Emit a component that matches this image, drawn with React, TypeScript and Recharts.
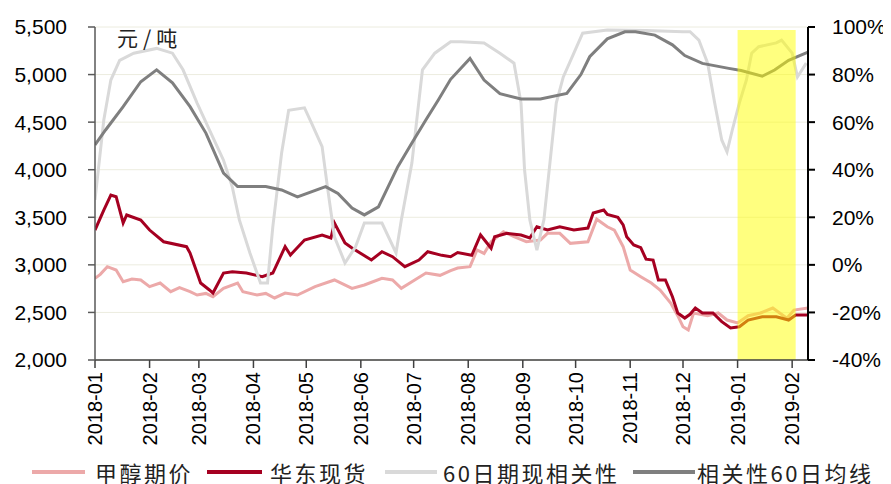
import React from 'react';
import { ComposedChart, Line, Area, XAxis, YAxis, CartesianGrid, Legend } from 'recharts';

// ---- tick labels / categories ----
const monthTicks = ['2018-01', '2018-02', '2018-03', '2018-04', '2018-05', '2018-06', '2018-07', '2018-08', '2018-09', '2018-10', '2018-11', '2018-12', '2019-01', '2019-02'];
const priceTicks = [2000, 2500, 3000, 3500, 4000, 4500, 5000, 5500];
const pctTicks = [-40, -20, 0, 20, 40, 60, 80, 100];
const domainStart = '2018-01-01';
const domainEnd = '2019-02-10';
const seriesNames = ['甲醇期价', '华东现货', '60日期现相关性', '相关性60日均线'];

// ---- highlighted period (right axis, %) ----
const bandDates = ['2019-01-01', '2019-02-03'];
const bandValues = [98.7, 98.7];
const bandBase = -40;

// ---- 甲醇期价 (left axis) ----
const futuresDates = ['2018-01-01', '2018-01-04', '2018-01-08', '2018-01-13', '2018-01-17', '2018-01-22', '2018-01-27', '2018-02-01', '2018-02-07', '2018-02-13', '2018-02-18', '2018-02-24', '2018-02-28', '2018-03-05', '2018-03-09', '2018-03-15', '2018-03-23', '2018-03-26', '2018-04-03', '2018-04-08', '2018-04-13', '2018-04-19', '2018-04-26', '2018-05-06', '2018-05-17', '2018-05-27', '2018-06-03', '2018-06-13', '2018-06-19', '2018-06-24', '2018-06-30', '2018-07-08', '2018-07-16', '2018-07-22', '2018-07-26', '2018-08-02', '2018-08-06', '2018-08-10', '2018-08-14', '2018-08-21', '2018-08-27', '2018-09-03', '2018-09-11', '2018-09-15', '2018-09-22', '2018-09-28', '2018-10-08', '2018-10-13', '2018-10-19', '2018-10-23', '2018-10-28', '2018-11-01', '2018-11-07', '2018-11-13', '2018-11-18', '2018-11-24', '2018-11-28', '2018-12-01', '2018-12-04', '2018-12-07', '2018-12-15', '2018-12-21', '2018-12-26', '2019-01-01', '2019-01-07', '2019-01-14', '2019-01-21', '2019-01-29', '2019-02-02', '2019-02-10'];
const futuresValues = [2858, 2900, 2981, 2946, 2823, 2850, 2841, 2771, 2809, 2718, 2760, 2718, 2683, 2700, 2665, 2753, 2809, 2718, 2683, 2700, 2652, 2704, 2683, 2771, 2841, 2753, 2788, 2858, 2841, 2753, 2823, 2914, 2890, 2940, 2967, 2981, 3156, 3120, 3243, 3348, 3296, 3243, 3261, 3331, 3331, 3226, 3243, 3480, 3400, 3366, 3191, 2946, 2876, 2809, 2736, 2599, 2466, 2350, 2315, 2494, 2466, 2494, 2420, 2389, 2466, 2494, 2546, 2440, 2525, 2546];

// ---- 华东现货 (left axis) ----
const spotDates = ['2018-01-01', '2018-01-06', '2018-01-10', '2018-01-13', '2018-01-17', '2018-01-19', '2018-01-27', '2018-02-01', '2018-02-09', '2018-02-22', '2018-02-24', '2018-02-28', '2018-03-02', '2018-03-07', '2018-03-09', '2018-03-15', '2018-03-20', '2018-03-28', '2018-04-06', '2018-04-12', '2018-04-19', '2018-04-22', '2018-04-30', '2018-05-10', '2018-05-15', '2018-05-17', '2018-05-23', '2018-05-27', '2018-06-07', '2018-06-13', '2018-06-19', '2018-06-26', '2018-07-04', '2018-07-09', '2018-07-17', '2018-07-22', '2018-07-26', '2018-08-03', '2018-08-08', '2018-08-14', '2018-08-16', '2018-08-23', '2018-08-31', '2018-09-05', '2018-09-09', '2018-09-15', '2018-09-22', '2018-09-30', '2018-10-08', '2018-10-11', '2018-10-17', '2018-10-19', '2018-10-25', '2018-10-28', '2018-10-30', '2018-11-03', '2018-11-07', '2018-11-10', '2018-11-14', '2018-11-17', '2018-11-21', '2018-11-25', '2018-11-28', '2018-12-02', '2018-12-05', '2018-12-08', '2018-12-12', '2018-12-18', '2018-12-23', '2018-12-28', '2019-01-02', '2019-01-07', '2019-01-15', '2019-01-23', '2019-01-30', '2019-02-03', '2019-02-10'];
const spotValues = [3366, 3576, 3734, 3716, 3440, 3524, 3471, 3366, 3243, 3191, 3124, 2914, 2809, 2736, 2704, 2914, 2928, 2914, 2876, 2914, 3191, 3104, 3261, 3314, 3282, 3440, 3230, 3177, 3051, 3138, 3086, 2981, 3051, 3138, 3100, 3086, 3130, 3100, 3314, 3174, 3296, 3331, 3314, 3282, 3401, 3366, 3401, 3366, 3387, 3545, 3576, 3530, 3500, 3420, 3296, 3210, 3180, 3060, 3051, 2841, 2841, 2665, 2494, 2441, 2480, 2546, 2494, 2494, 2403, 2336, 2350, 2420, 2455, 2455, 2420, 2473, 2473];

// ---- 60日期现相关性 (right axis, %) ----
const corrDates = ['2018-01-01', '2018-01-06', '2018-01-10', '2018-01-15', '2018-01-23', '2018-02-05', '2018-02-14', '2018-02-20', '2018-02-28', '2018-03-07', '2018-03-15', '2018-03-20', '2018-03-24', '2018-03-30', '2018-04-05', '2018-04-09', '2018-04-12', '2018-04-17', '2018-04-21', '2018-04-30', '2018-05-04', '2018-05-10', '2018-05-13', '2018-05-17', '2018-05-23', '2018-05-29', '2018-06-03', '2018-06-13', '2018-06-21', '2018-06-24', '2018-06-30', '2018-07-06', '2018-07-13', '2018-07-22', '2018-07-28', '2018-08-10', '2018-08-19', '2018-08-27', '2018-08-31', '2018-09-02', '2018-09-05', '2018-09-09', '2018-09-13', '2018-09-17', '2018-09-20', '2018-09-24', '2018-09-30', '2018-10-05', '2018-10-19', '2018-11-10', '2018-12-01', '2018-12-05', '2018-12-10', '2018-12-15', '2018-12-19', '2018-12-23', '2018-12-26', '2018-12-29', '2019-01-02', '2019-01-06', '2019-01-09', '2019-01-13', '2019-01-23', '2019-01-26', '2019-02-01', '2019-02-04', '2019-02-09'];
const corrValues = [27.3, 60.9, 77.7, 86, 89, 91, 89, 82, 68, 56.7, 44, 32.7, 18.9, 5, -7.6, -7.6, 16, 47, 65, 66, 59.6, 49.7, 32.9, 11.8, 0.8, 7.6, 17.6, 17.6, 5, 18.9, 42.8, 82, 89, 93.8, 93.8, 93.3, 89, 84.8, 68, 39.9, 18.9, 6.2, 19, 47, 68, 79, 89, 97.4, 98.7, 98.5, 98, 98, 94.5, 84.8, 68, 52.5, 47.5, 56.7, 68, 77.7, 89, 91.7, 93.3, 94.5, 89, 79, 84.8];

// ---- 相关性60日均线 (right axis, %) ----
const maDates = ['2018-01-01', '2018-01-07', '2018-01-17', '2018-01-27', '2018-02-05', '2018-02-14', '2018-02-24', '2018-03-05', '2018-03-15', '2018-03-23', '2018-04-08', '2018-04-17', '2018-04-26', '2018-05-12', '2018-05-19', '2018-05-27', '2018-06-03', '2018-06-11', '2018-06-22', '2018-06-30', '2018-07-08', '2018-07-15', '2018-07-22', '2018-08-02', '2018-08-10', '2018-08-19', '2018-08-31', '2018-09-11', '2018-09-26', '2018-10-04', '2018-10-09', '2018-10-19', '2018-10-29', '2018-11-04', '2018-11-15', '2018-11-25', '2018-12-02', '2018-12-12', '2018-12-27', '2019-01-03', '2019-01-15', '2019-01-22', '2019-01-30', '2019-02-10'];
const maValues = [50.4, 56.7, 66.5, 77, 82, 76.5, 66.5, 55.4, 38.6, 32.9, 32.9, 31.5, 28.6, 32.9, 30, 23.9, 21, 24.4, 41.3, 51.2, 61, 69.3, 78, 86.8, 77.7, 72, 69.7, 69.7, 72.1, 80, 87.5, 95, 98, 98, 96.6, 92.5, 88, 84.7, 82.6, 81.7, 79.3, 81.9, 86, 89.4];

const ts = (s: string) => Date.UTC(+s.slice(0, 4), +s.slice(5, 7) - 1, s.length > 7 ? +s.slice(8, 10) : 1);

// merged table keyed by timestamp
const buildTable = () => {
  const map = new Map<number, any>();
  const add = (dates: string[], values: number[], key: string) => {
    dates.forEach((d, i) => {
      const t = ts(d);
      if (!map.has(t)) map.set(t, { t });
      map.get(t)[key] = values[i];
    });
  };
  add(futuresDates, futuresValues, 'futures');
  add(spotDates, spotValues, 'spot');
  add(corrDates, corrValues, 'corr');
  add(maDates, maValues, 'ma');
  add(bandDates, bandValues, 'band');
  return Array.from(map.values()).sort((a, b) => a.t - b.t);
};
const table = buildTable();

const COLORS = ['#ECA9A9', '#A50021', '#D9D9D9', '#7F7F7F'];
const FONT = '"Liberation Sans", Arial, sans-serif';
const CJK = '"Noto Sans CJK SC", sans-serif';

const fmtMonth = (t: number) => {
  const d = new Date(t);
  const m = d.getUTCMonth() + 1;
  return `${d.getUTCFullYear()}-${m < 10 ? '0' + m : m}`;
};
const fmtPrice = (v: number) => String(v).replace(/\B(?=(\d{3})+(?!\d))/g, ',');

const XTick = (props: any) => {
  const { x, y, payload } = props;
  return (
    <text x={0} y={0} transform={`translate(${x},${y}) rotate(-90)`} textAnchor="end" dominantBaseline="central" fontSize={20} fill="#000" fontFamily={FONT}>
      {fmtMonth(payload.value)}
    </text>
  );
};

// legend layout (icon start, icon end, text start) in px
const legendLayout = [
  [24, 77, 87],
  [199, 254, 262],
  [377, 429, 435],
  [625, 687, 689],
];

const LegendContent = () => (
  <svg width={883} height={28} style={{ display: 'block', overflow: 'visible' }}>
    {seriesNames.map((name, i) => {
      const [a, b, tx] = legendLayout[i];
      return (
        <g key={i}>
          <line x1={a} x2={b} y1={14} y2={14} stroke={COLORS[i]} strokeWidth={4} />
          <text x={tx} y={14} dominantBaseline="central" fontFamily={CJK} fontSize={22} letterSpacing={2.5} fill="#222">{name}</text>
        </g>
      );
    })}
  </svg>
);

export default function App() {
  return (
    <div style={{ position: 'relative', width: 883, height: 476, fontFamily: FONT }}>
      <ComposedChart width={883} height={476} data={table} margin={{ top: 19, right: 0, bottom: 0, left: 0 }}>
        <CartesianGrid yAxisId="left" vertical={false} stroke="#ECECDF" strokeWidth={1} />
        <XAxis
          type="number"
          dataKey="t"
          scale="linear"
          domain={[ts(domainStart), ts(domainEnd)]}
          allowDataOverflow
          ticks={monthTicks.map(ts)}
          height={124}
          axisLine={{ stroke: '#404040', strokeWidth: 1.5 }}
          tickLine={{ stroke: '#404040', strokeWidth: 1.5 }}
          tickSize={8}
          tickMargin={4}
          interval={0}
          tick={<XTick />}
        />
        <YAxis
          yAxisId="left"
          orientation="left"
          width={87}
          type="number"
          domain={[2000, 5500]}
          ticks={priceTicks}
          interval={0}
          tickFormatter={fmtPrice}
          axisLine={{ stroke: '#595959', strokeWidth: 1.5 }}
          tickLine={{ stroke: '#595959', strokeWidth: 1.5 }}
          tickSize={7}
          tickMargin={21}
          tick={{ fontSize: 21, fill: '#000', fontFamily: FONT }}
        />
        <YAxis
          yAxisId="right"
          orientation="right"
          width={83}
          type="number"
          domain={[-40, 100]}
          ticks={pctTicks}
          interval={0}
          tickFormatter={(v: number) => `${v}%`}
          axisLine={{ stroke: '#000', strokeWidth: 2 }}
          tickLine={{ stroke: '#000', strokeWidth: 2 }}
          tickSize={7}
          tickMargin={17}
          tick={{ fontSize: 21, fill: '#000', fontFamily: FONT }}
        />
        <Line yAxisId="left" dataKey="futures" name={seriesNames[0]} type="linear" stroke={COLORS[0]} strokeWidth={3} dot={false} connectNulls isAnimationActive={false} />
        <Line yAxisId="left" dataKey="spot" name={seriesNames[1]} type="linear" stroke={COLORS[1]} strokeWidth={3} dot={false} connectNulls isAnimationActive={false} />
        <Line yAxisId="right" dataKey="corr" name={seriesNames[2]} type="linear" stroke={COLORS[2]} strokeWidth={3} dot={false} connectNulls isAnimationActive={false} />
        <Line yAxisId="right" dataKey="ma" name={seriesNames[3]} type="linear" stroke={COLORS[3]} strokeWidth={3} dot={false} connectNulls isAnimationActive={false} />
        <Area
          yAxisId="right"
          dataKey="band"
          type="linear"
          baseValue={bandBase}
          connectNulls
          stroke="none"
          fill="#FFFF00"
          fillOpacity={0.5}
          dot={false}
          activeDot={false}
          legendType="none"
          isAnimationActive={false}
          {...({ zIndex: 450 } as any)}
        />
        <Legend layout="horizontal" verticalAlign="middle" align="center" wrapperStyle={{ left: 0, top: 450, width: 883, height: 28 }} content={LegendContent} />
      </ComposedChart>
      <div style={{ position: 'absolute', left: 109, top: 18, fontFamily: CJK, fontSize: 21, lineHeight: '22px', letterSpacing: 5, color: '#222' }}>元/吨</div>
    </div>
  );
}
